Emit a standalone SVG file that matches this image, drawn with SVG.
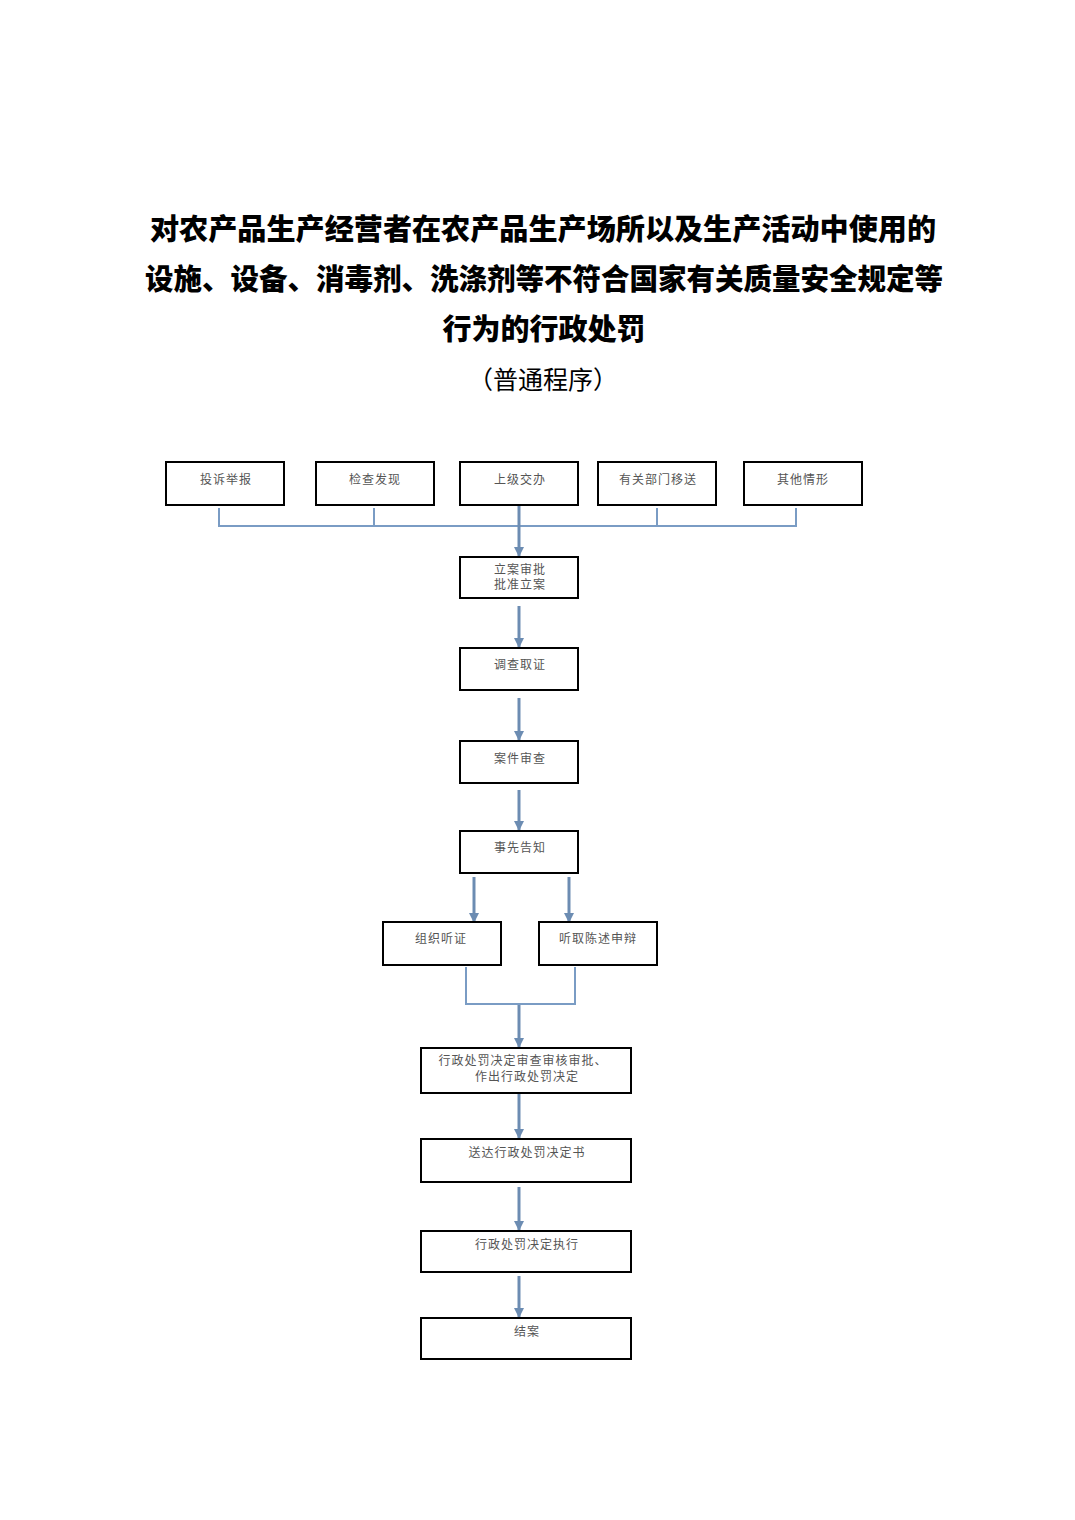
<svg xmlns="http://www.w3.org/2000/svg" width="1075" height="1520" viewBox="0 0 1075 1520">
<defs>
<style>
.title{font-family:"Noto Sans CJK SC","Noto Sans CJK JP",sans-serif;font-weight:900;font-size:29px;fill:#000;text-anchor:middle}
.sub{font-family:"Noto Sans CJK SC",sans-serif;font-size:25px;fill:#000;text-anchor:middle}
.box{fill:#fff;stroke:#000;stroke-width:2}
.lbl{font-family:"Noto Sans CJK SC","Noto Sans CJK JP",sans-serif;font-size:12px;letter-spacing:1px;fill:#555;text-anchor:middle}
.ln{fill:none;stroke:#7a9cc4;stroke-width:2}
.ar{fill:none;stroke:#6c8cb2;stroke-width:3}
</style>
<marker id="ah" viewBox="0 0 10 10" refX="9" refY="5" markerWidth="3.5" markerHeight="3.5" orient="auto" markerUnits="strokeWidth">
<path d="M0,0 L10,5 L0,10 z" fill="#6c8cb2"/>
</marker>
</defs>
<rect width="1075" height="1520" fill="#fff"/>
<g id="title">
<text class="title" x="543" y="240" textLength="786" lengthAdjust="spacingAndGlyphs">对农产品生产经营者在农产品生产场所以及生产活动中使用的</text>
<text class="title" x="544" y="290" textLength="798" lengthAdjust="spacingAndGlyphs">设施、设备、消毒剂、洗涤剂等不符合国家有关质量安全规定等</text>
<text class="title" x="544" y="340">行为的行政处罚</text>
<text class="sub" x="543" y="389">（普通程序）</text>
</g>
<g id="connectors">
<path class="ln" d="M219,508 V526 H796 V508 M374,508 V526 M657,508 V526"/>
<path class="ar" d="M519,505 V556" marker-end="url(#ah)"/>
<path class="ar" d="M519,606 V647" marker-end="url(#ah)"/>
<path class="ar" d="M519,698 V740" marker-end="url(#ah)"/>
<path class="ar" d="M519,790 V830" marker-end="url(#ah)"/>
<path class="ar" d="M474,877 V922" marker-end="url(#ah)"/>
<path class="ar" d="M569,877 V922" marker-end="url(#ah)"/>
<path class="ln" d="M466,967 V1004 H575 V967"/>
<path class="ar" d="M519,1005 V1047" marker-end="url(#ah)"/>
<path class="ar" d="M519,1094 V1138" marker-end="url(#ah)"/>
<path class="ar" d="M519,1187 V1230" marker-end="url(#ah)"/>
<path class="ar" d="M519,1276 V1317" marker-end="url(#ah)"/>
</g>
<g id="n1"><rect class="box" x="166" y="462" width="118" height="43"/><text class="lbl" x="226" y="484">投诉举报</text></g>
<g id="n2"><rect class="box" x="316" y="462" width="118" height="43"/><text class="lbl" x="375" y="484">检查发现</text></g>
<g id="n3"><rect class="box" x="460" y="462" width="118" height="43"/><text class="lbl" x="520" y="484">上级交办</text></g>
<g id="n4"><rect class="box" x="598" y="462" width="118" height="43"/><text class="lbl" x="658" y="484">有关部门移送</text></g>
<g id="n5"><rect class="box" x="744" y="462" width="118" height="43"/><text class="lbl" x="803" y="484">其他情形</text></g>
<g id="n6"><rect class="box" x="460" y="557" width="118" height="41"/><text class="lbl" x="520" y="574">立案审批</text><text class="lbl" x="520" y="589">批准立案</text></g>
<g id="n7"><rect class="box" x="460" y="648" width="118" height="42"/><text class="lbl" x="520" y="669">调查取证</text></g>
<g id="n8"><rect class="box" x="460" y="741" width="118" height="42"/><text class="lbl" x="520" y="763">案件审查</text></g>
<g id="n9"><rect class="box" x="460" y="831" width="118" height="42"/><text class="lbl" x="520" y="852">事先告知</text></g>
<g id="n10"><rect class="box" x="383" y="922" width="118" height="43"/><text class="lbl" x="441" y="943">组织听证</text></g>
<g id="n11"><rect class="box" x="539" y="922" width="118" height="43"/><text class="lbl" x="598" y="943">听取陈述申辩</text></g>
<g id="n12"><rect class="box" x="421" y="1048" width="210" height="45"/><text class="lbl" x="523" y="1065">行政处罚决定审查审核审批、</text><text class="lbl" x="527" y="1081">作出行政处罚决定</text></g>
<g id="n13"><rect class="box" x="421" y="1139" width="210" height="43"/><text class="lbl" x="527" y="1157">送达行政处罚决定书</text></g>
<g id="n14"><rect class="box" x="421" y="1231" width="210" height="41"/><text class="lbl" x="527" y="1249">行政处罚决定执行</text></g>
<g id="n15"><rect class="box" x="421" y="1318" width="210" height="41"/><text class="lbl" x="527" y="1336">结案</text></g>
</svg>
